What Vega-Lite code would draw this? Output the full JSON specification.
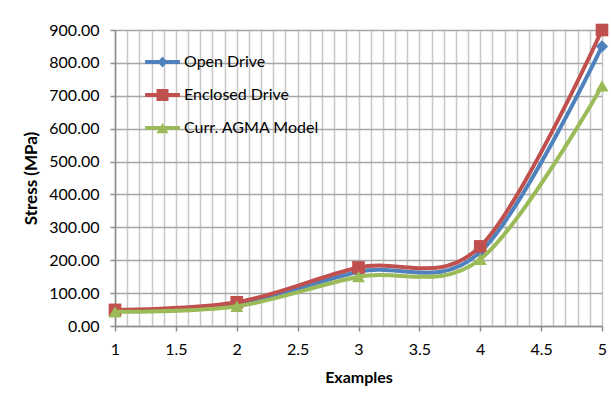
{
  "$schema": "https://vega.github.io/schema/vega-lite/v6.json",
  "width": 487,
  "height": 296,
  "autosize": {"type": "none"},
  "padding": {"left": 115, "top": 30, "right": 9, "bottom": 81},
  "background": "white",
  "config": {
    "view": {"stroke": null},
    "font": "Lato",
    "axis": {"labelFont": "Lato", "titleFont": "Lato", "labelColor": "#000", "titleColor": "#000", "labelFontSize": 16, "titleFontSize": 16, "titleFontWeight": "bold"}
  },
  "data": {
    "values": [
      {"example": 1, "stress": 46, "series": "Open Drive"},
      {"example": 2, "stress": 66, "series": "Open Drive"},
      {"example": 3, "stress": 165, "series": "Open Drive"},
      {"example": 4, "stress": 225, "series": "Open Drive"},
      {"example": 5, "stress": 850, "series": "Open Drive"},
      {"example": 1, "stress": 49, "series": "Enclosed Drive"},
      {"example": 2, "stress": 72, "series": "Enclosed Drive"},
      {"example": 3, "stress": 178, "series": "Enclosed Drive"},
      {"example": 4, "stress": 242, "series": "Enclosed Drive"},
      {"example": 5, "stress": 900, "series": "Enclosed Drive"},
      {"example": 1, "stress": 43, "series": "Curr. AGMA Model"},
      {"example": 2, "stress": 60, "series": "Curr. AGMA Model"},
      {"example": 3, "stress": 150, "series": "Curr. AGMA Model"},
      {"example": 4, "stress": 203, "series": "Curr. AGMA Model"},
      {"example": 5, "stress": 730, "series": "Curr. AGMA Model"}
    ]
  },
  "encoding": {
    "x": {
      "field": "example", "type": "quantitative",
      "scale": {"domain": [1, 5], "zero": false, "nice": false},
      "axis": {
        "title": "Examples",
        "titlePadding": 12,
        "values": [1,1.1,1.2,1.3,1.4,1.5,1.6,1.7,1.8,1.9,2,2.1,2.2,2.3,2.4,2.5,2.6,2.7,2.8,2.9,3,3.1,3.2,3.3,3.4,3.5,3.6,3.7,3.8,3.9,4,4.1,4.2,4.3,4.4,4.5,4.6,4.7,4.8,4.9,5],
        "labelExpr": "abs(datum.value*2 - round(datum.value*2)) < 0.001 ? format(datum.value, '~g') : ''",
        "labelPadding": 10,
        "labelFlush": false,
        "labelOverlap": false,
        "grid": true,
        "gridColor": "#c8c8c8",
        "gridWidth": 1.5,
        "domainColor": "#8c8c8c",
        "domainWidth": 1.5,
        "tickColor": "#8c8c8c",
        "tickWidth": 1.5,
        "tickSize": 5,
        "tickOpacity": {"condition": {"test": "abs(datum.value*2 - round(datum.value*2)) < 0.001", "value": 1}, "value": 0}
      }
    },
    "y": {
      "field": "stress", "type": "quantitative",
      "scale": {"domain": [0, 900], "nice": false},
      "axis": {
        "title": "Stress (MPa)",
        "titleFontSize": 17,
        "titlePadding": 8,
        "values": [0,100,200,300,400,500,600,700,800,900],
        "format": ".2f",
        "labelPadding": 11,
        "grid": true,
        "gridColor": "#a6a6a6",
        "gridWidth": 1.5,
        "domainColor": "#8c8c8c",
        "domainWidth": 1.5,
        "tickColor": "#8c8c8c",
        "tickWidth": 1.5,
        "tickSize": 5
      }
    }
  },
  "layer": [
    {"transform": [{"filter": "datum.series == 'Open Drive'"}], "mark": {"type": "line", "interpolate": "cardinal", "color": "#4F81BD", "strokeWidth": 4}},
    {"transform": [{"filter": "datum.series == 'Open Drive'"}], "mark": {"type": "point", "shape": "diamond", "filled": true, "color": "#4F81BD", "size": 150, "opacity": 1}},
    {"transform": [{"filter": "datum.series == 'Enclosed Drive'"}], "mark": {"type": "line", "interpolate": "cardinal", "color": "#C0504D", "strokeWidth": 4}},
    {"transform": [{"filter": "datum.series == 'Enclosed Drive'"}], "mark": {"type": "point", "shape": "square", "filled": true, "color": "#C0504D", "size": 160, "opacity": 1}},
    {"transform": [{"filter": "datum.series == 'Curr. AGMA Model'"}], "mark": {"type": "line", "interpolate": "cardinal", "color": "#9BBB59", "strokeWidth": 4}},
    {"transform": [{"filter": "datum.series == 'Curr. AGMA Model'"}], "mark": {"type": "point", "shape": "triangle-up", "filled": true, "color": "#9BBB59", "size": 170, "opacity": 1}},
    {
      "transform": [{"filter": "false"}],
      "mark": {"type": "point", "filled": true, "opacity": 1},
      "encoding": {
        "color": {
          "field": "series", "type": "nominal",
          "scale": {"domain": ["Open Drive", "Enclosed Drive", "Curr. AGMA Model"], "range": ["#4F81BD", "#C0504D", "#9BBB59"]},
          "legend": {
            "orient": "none", "legendX": 31.5, "legendY": 16, "title": null,
            "symbolSize": 1024, "symbolStrokeWidth": 0, "symbolOpacity": 1,
            "labelFont": "Lato", "labelFontSize": 16, "labelColor": "#000",
            "labelOffset": 5.5, "rowPadding": 9
          }
        },
        "shape": {
          "field": "series", "type": "nominal",
          "scale": {"domain": ["Open Drive", "Enclosed Drive", "Curr. AGMA Model"], "range": [
            "M-1.09,-0.125H1.09V0.125H-1.09Z M0,-0.34L0.31,0L0,0.34L-0.31,0Z",
            "M-1.09,-0.125H1.09V0.125H-1.09Z M-0.375,-0.375H0.375V0.375H-0.375Z",
            "M-1.09,-0.125H1.09V0.125H-1.09Z M0,-0.32L0.375,0.33H-0.375Z"
          ]}
        }
      }
    }
  ]
}
